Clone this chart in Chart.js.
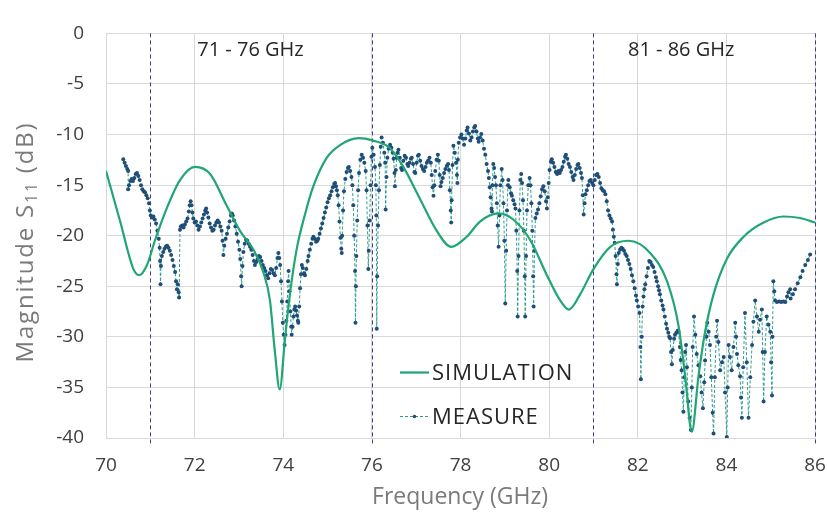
<!DOCTYPE html>
<html>
<head>
<meta charset="utf-8">
<title>S11 magnitude</title>
<script src="https://cdn.jsdelivr.net/npm/chart.js@4.4.0/dist/chart.umd.min.js"></script>
<style>
  html, body { margin: 0; padding: 0; background: #fff; }
  #wrap { width: 827px; height: 521px; position: relative; }
</style>
</head>
<body>
<div id="wrap"><canvas id="s11Chart" width="827" height="521"></canvas></div>
<script>
// axis setup
const xTicks = [70, 72, 74, 76, 78, 80, 82, 84, 86];
const yTicks = [0, -5, -10, -15, -20, -25, -30, -35, -40];
const bandEdges = [71, 76, 81, 86];
const bandLabels = ['71 - 76 GHz', '81 - 86 GHz'];
const seriesNames = ['SIMULATION', 'MEASURE'];

// simulated S11 (GHz, dB)
const simFreq = [70.0, 70.32, 70.62, 70.75, 70.92, 71.11, 71.37, 71.67, 72.01, 72.35, 72.72, 73.02, 73.33, 73.55, 73.70, 73.81, 73.92, 74.04, 74.15, 74.30, 74.49, 74.68, 74.98, 75.28, 75.70, 76.03, 76.41, 76.71, 77.09, 77.46, 77.79, 78.14, 78.44, 78.86, 79.19, 79.57, 79.95, 80.25, 80.45, 80.70, 81.0, 81.38, 81.79, 82.28, 82.66, 82.92, 83.07, 83.22, 83.37, 83.52, 83.71, 84.01, 84.39, 84.84, 85.29, 85.66, 86.0];
const simDb = [-13.6, -18.6, -23.3, -23.9, -22.95, -20.4, -17.3, -14.5, -13.2, -13.9, -17.0, -19.5, -21.4, -23.6, -26.4, -31.4, -35.2, -30.15, -25.8, -21.4, -17.9, -15.1, -12.3, -11.05, -10.36, -10.6, -11.35, -13.2, -16.4, -19.5, -21.1, -20.1, -18.6, -17.8, -18.4, -20.4, -23.9, -26.4, -27.3, -25.8, -23.3, -21.1, -20.5, -21.7, -24.5, -28.9, -33.9, -39.4, -33.9, -29.5, -25.8, -22.3, -20.1, -18.7, -18.1, -18.25, -18.7];

const measured = [
  [70.39, -12.45], [70.42, -12.8], [70.45, -13.1], [70.48, -13.4], [70.50, -13.6], [70.50, -15.4], [70.52, -15.0], [70.55, -14.6], [70.58, -14.4], [70.61, -14.6],
  [70.64, -14.3], [70.67, -13.9], [70.70, -13.8], [70.73, -14.1], [70.76, -14.5], [70.79, -15.0], [70.82, -15.4], [70.85, -15.6], [70.88, -15.7], [70.91, -16.0],
  [70.94, -16.3], [70.97, -16.8], [70.99, -17.5], [71.01, -18.0], [71.04, -18.2], [71.07, -18.1], [71.10, -18.4], [71.13, -18.8], [71.16, -19.5], [71.19, -20.3],
  [71.21, -21.2], [71.22, -22.5], [71.23, -24.8], [71.24, -23.0], [71.26, -22.0], [71.29, -21.6], [71.32, -21.3], [71.35, -21.1], [71.38, -21.0], [71.41, -21.2],
  [71.44, -21.5], [71.47, -21.9], [71.50, -22.4], [71.53, -23.0], [71.56, -23.6], [71.58, -24.5], [71.60, -25.3], [71.62, -24.8], [71.64, -25.6], [71.65, -26.1],
  [71.67, -19.4], [71.69, -19.1], [71.72, -19.0], [71.75, -19.2], [71.78, -18.9], [71.81, -18.6], [71.84, -18.3], [71.87, -17.6], [71.89, -17.0], [71.91, -16.6],
  [71.93, -17.0], [71.95, -17.7], [71.97, -18.3], [72.00, -18.7], [72.03, -18.6], [72.06, -19.0], [72.09, -19.4], [72.12, -19.1], [72.15, -18.7], [72.18, -18.3],
  [72.21, -17.9], [72.24, -17.5], [72.26, -17.3], [72.28, -17.7], [72.31, -18.2], [72.34, -18.8], [72.37, -19.2], [72.40, -19.5], [72.43, -19.4], [72.46, -19.0],
  [72.49, -18.7], [72.52, -18.5], [72.55, -18.7], [72.58, -19.1], [72.61, -19.5], [72.63, -20.5], [72.65, -21.9], [72.67, -21.0], [72.70, -20.3], [72.73, -19.8],
  [72.76, -19.2], [72.79, -18.6], [72.82, -18.0], [72.84, -17.8], [72.86, -18.0], [72.89, -18.5], [72.92, -19.1], [72.95, -19.8], [72.98, -20.6], [73.01, -21.4],
  [73.03, -22.3], [73.05, -24.0], [73.06, -25.0], [73.08, -23.0], [73.10, -21.6], [73.13, -20.8], [73.16, -20.4], [73.19, -20.5], [73.22, -20.8], [73.25, -21.1],
  [73.28, -21.4], [73.31, -21.9], [73.34, -22.5], [73.36, -22.9], [73.39, -22.6], [73.42, -22.3], [73.45, -22.0], [73.48, -22.1], [73.51, -22.5], [73.54, -22.9],
  [73.57, -23.2], [73.60, -23.5], [73.63, -23.9], [73.66, -24.2], [73.69, -23.7], [73.72, -23.3], [73.75, -23.4], [73.78, -23.7], [73.81, -23.9], [73.84, -23.2],
  [73.87, -22.2], [73.89, -21.7], [73.91, -22.2], [73.93, -22.9], [73.95, -24.5], [73.97, -26.5], [73.99, -28.6], [74.01, -29.8], [74.03, -30.8], [74.05, -29.8],
  [74.07, -28.4], [74.09, -26.5], [74.11, -24.5], [74.12, -23.5], [74.14, -25.5], [74.16, -27.5], [74.18, -29.0], [74.19, -29.8], [74.21, -29.0], [74.23, -28.0],
  [74.25, -27.3], [74.27, -27.0], [74.29, -27.4], [74.31, -27.9], [74.33, -28.4], [74.34, -28.6], [74.36, -27.0], [74.38, -25.2], [74.40, -23.8], [74.42, -22.9],
  [74.44, -23.2], [74.47, -23.7], [74.49, -23.9], [74.52, -23.3], [74.55, -22.5], [74.57, -22.0], [74.60, -21.4], [74.63, -20.8], [74.66, -20.3], [74.68, -20.1],
  [74.71, -20.3], [74.74, -20.6], [74.77, -20.5], [74.79, -20.3], [74.82, -19.8], [74.85, -19.3], [74.88, -18.8], [74.91, -18.25], [74.94, -17.7], [74.97, -17.2],
  [75.00, -16.7], [75.03, -16.3], [75.06, -16.0], [75.09, -15.6], [75.12, -15.2], [75.15, -14.9], [75.17, -14.8], [75.19, -15.1], [75.21, -15.5], [75.23, -16.0],
  [75.25, -17.0], [75.27, -18.6], [75.29, -20.2], [75.31, -21.3], [75.32, -21.7], [75.33, -20.0], [75.35, -17.5], [75.37, -15.6], [75.40, -14.4], [75.43, -13.7],
  [75.46, -13.3], [75.48, -13.2], [75.51, -13.6], [75.54, -14.2], [75.56, -15.0], [75.58, -17.0], [75.60, -20.0], [75.62, -23.5], [75.63, -28.6], [75.64, -25.0],
  [75.65, -22.0], [75.67, -18.5], [75.69, -15.5], [75.71, -13.8], [75.74, -12.5], [75.77, -12.0], [75.80, -12.3], [75.83, -12.8], [75.86, -13.6], [75.88, -15.5],
  [75.90, -19.0], [75.92, -23.3], [75.93, -21.5], [75.95, -18.5], [75.97, -15.0], [75.99, -12.2], [76.01, -11.3], [76.04, -12.0], [76.07, -13.2], [76.09, -15.0],
  [76.10, -18.0], [76.11, -29.2], [76.12, -24.0], [76.14, -19.0], [76.16, -15.5], [76.18, -13.0], [76.20, -11.2], [76.22, -10.3], [76.25, -10.8], [76.28, -11.8],
  [76.30, -12.8], [76.31, -17.4], [76.33, -14.2], [76.35, -12.3], [76.38, -11.4], [76.41, -11.0], [76.44, -11.3], [76.47, -11.8], [76.49, -12.4], [76.51, -13.8],
  [76.52, -15.1], [76.54, -13.5], [76.56, -12.3], [76.58, -11.8], [76.60, -11.5], [76.63, -12.3], [76.66, -13.3], [76.68, -13.5], [76.71, -12.6], [76.74, -12.1],
  [76.77, -12.3], [76.80, -12.9], [76.82, -13.1], [76.85, -12.8], [76.88, -12.4], [76.90, -12.3], [76.93, -12.9], [76.96, -13.7], [76.98, -13.8], [77.01, -12.8],
  [77.04, -12.1], [77.06, -12.0], [77.09, -12.6], [77.12, -13.1], [77.15, -13.4], [77.18, -13.6], [77.21, -13.2], [77.24, -12.8], [77.27, -12.6], [77.30, -12.3],
  [77.33, -12.8], [77.35, -14.0], [77.37, -15.2], [77.39, -16.05], [77.41, -15.0], [77.43, -13.6], [77.46, -12.5], [77.49, -12.0], [77.51, -12.6], [77.53, -14.0],
  [77.55, -15.1], [77.57, -14.7], [77.60, -14.3], [77.63, -13.8], [77.66, -13.4], [77.69, -13.1], [77.72, -12.9], [77.74, -13.5], [77.76, -15.5], [77.78, -17.5],
  [77.79, -18.7], [77.80, -16.5], [77.82, -13.0], [77.84, -11.1], [77.87, -11.8], [77.90, -12.8], [77.92, -14.0], [77.93, -14.8], [77.94, -12.5], [77.96, -10.8],
  [77.99, -10.3], [78.02, -10.0], [78.05, -10.4], [78.08, -11.0], [78.11, -10.4], [78.14, -9.6], [78.16, -9.3], [78.19, -9.9], [78.22, -10.6], [78.25, -10.3],
  [78.28, -9.7], [78.31, -9.3], [78.33, -9.15], [78.36, -9.7], [78.39, -10.4], [78.41, -10.7], [78.44, -10.3], [78.47, -9.95], [78.50, -10.6], [78.53, -11.4],
  [78.56, -12.0], [78.59, -12.9], [78.62, -13.6], [78.64, -14.3], [78.66, -15.2], [78.68, -16.2], [78.70, -17.3], [78.71, -17.6], [78.72, -15.0], [78.74, -12.9],
  [78.76, -13.3], [78.78, -14.2], [78.80, -15.0], [78.82, -16.8], [78.84, -19.0], [78.86, -21.1], [78.88, -18.0], [78.90, -15.0], [78.93, -13.4], [78.95, -14.5],
  [78.97, -16.8], [78.99, -20.5], [79.01, -26.7], [79.03, -21.5], [79.05, -17.5], [79.07, -15.0], [79.08, -14.5], [79.11, -15.2], [79.14, -15.8], [79.16, -16.05],
  [79.19, -16.5], [79.22, -16.9], [79.24, -17.3], [79.26, -19.5], [79.28, -23.5], [79.29, -28.0], [79.31, -22.0], [79.33, -17.5], [79.35, -14.5], [79.37, -13.9],
  [79.39, -14.8], [79.41, -16.5], [79.43, -19.5], [79.45, -24.0], [79.46, -28.0], [79.48, -22.0], [79.50, -17.5], [79.53, -15.0], [79.56, -14.3], [79.58, -15.0],
  [79.60, -16.8], [79.62, -19.5], [79.64, -24.0], [79.65, -27.0], [79.67, -21.5], [79.69, -18.25], [79.72, -17.8], [79.75, -17.4], [79.78, -16.8], [79.81, -16.1],
  [79.84, -15.4], [79.87, -15.1], [79.90, -15.6], [79.93, -16.6], [79.95, -17.3], [79.97, -16.2], [79.99, -14.8], [80.01, -13.5], [80.04, -12.7], [80.06, -12.45],
  [80.09, -12.8], [80.12, -13.2], [80.15, -13.7], [80.18, -13.9], [80.21, -13.6], [80.24, -13.8], [80.27, -13.5], [80.30, -13.2], [80.33, -12.7], [80.36, -12.2],
  [80.38, -12.0], [80.41, -12.4], [80.44, -12.9], [80.47, -13.2], [80.50, -13.7], [80.53, -14.2], [80.55, -14.5], [80.58, -14.0], [80.61, -13.4], [80.64, -13.0],
  [80.66, -12.9], [80.69, -13.3], [80.72, -13.8], [80.74, -14.3], [80.76, -16.0], [80.78, -17.9], [80.80, -16.8], [80.82, -15.9], [80.85, -15.5], [80.88, -15.0],
  [80.91, -14.6], [80.94, -14.5], [80.97, -14.8], [81.00, -15.0], [81.03, -14.5], [81.06, -14.0], [81.09, -13.9], [81.12, -14.2], [81.15, -14.8], [81.18, -15.3],
  [81.21, -15.5], [81.24, -15.6], [81.27, -15.9], [81.30, -16.6], [81.33, -17.5], [81.36, -18.0], [81.39, -18.3], [81.42, -18.6], [81.44, -19.4], [81.46, -20.1],
  [81.48, -20.7], [81.50, -22.0], [81.52, -23.8], [81.53, -24.8], [81.55, -22.8], [81.57, -21.7], [81.60, -21.4], [81.63, -21.2], [81.66, -21.3], [81.69, -21.5],
  [81.72, -21.8], [81.75, -22.0], [81.78, -22.4], [81.81, -22.8], [81.84, -23.3], [81.87, -23.9], [81.90, -24.5], [81.93, -25.2], [81.96, -25.9], [81.98, -26.4],
  [82.01, -27.0], [82.04, -27.65], [82.06, -31.0], [82.07, -34.2], [82.09, -30.0], [82.11, -27.0], [82.13, -26.0], [82.15, -25.3], [82.17, -24.8], [82.20, -24.0],
  [82.23, -23.2], [82.26, -22.5], [82.29, -22.6], [82.32, -22.9], [82.35, -23.1], [82.38, -23.6], [82.41, -24.1], [82.43, -24.5], [82.46, -25.0], [82.48, -25.4],
  [82.50, -25.8], [82.53, -26.4], [82.56, -26.9], [82.58, -27.3], [82.61, -28.0], [82.64, -28.7], [82.66, -29.2], [82.69, -29.6], [82.71, -30.0], [82.73, -30.15],
  [82.75, -31.5], [82.77, -32.7], [82.79, -31.3], [82.82, -30.2], [82.84, -29.8], [82.87, -29.6], [82.90, -29.4], [82.92, -29.5], [82.95, -31.0], [82.97, -32.3],
  [82.99, -33.3], [83.01, -35.5], [83.03, -37.4], [83.05, -34.0], [83.07, -31.5], [83.09, -30.8], [83.11, -33.0], [83.14, -36.4], [83.17, -38.0], [83.20, -39.2],
  [83.22, -35.0], [83.24, -31.0], [83.27, -28.0], [83.30, -29.8], [83.33, -31.7], [83.37, -32.8], [83.41, -33.9], [83.44, -35.5], [83.47, -37.05], [83.50, -34.5],
  [83.52, -32.35], [83.55, -30.0], [83.57, -28.6], [83.60, -29.5], [83.63, -30.8], [83.66, -34.0], [83.69, -37.5], [83.71, -39.55], [83.74, -34.0], [83.77, -30.0],
  [83.79, -28.4], [83.82, -30.5], [83.86, -33.3], [83.90, -32.5], [83.94, -32.0], [83.97, -35.5], [84.01, -39.9], [84.03, -35.0], [84.05, -30.8], [84.08, -32.0],
  [84.12, -33.3], [84.16, -31.0], [84.20, -28.6], [84.22, -30.0], [84.24, -31.7], [84.27, -32.8], [84.31, -33.9], [84.33, -36.0], [84.35, -38.0], [84.38, -33.0],
  [84.42, -27.65], [84.46, -32.5], [84.50, -38.0], [84.54, -34.0], [84.58, -30.8], [84.61, -28.5], [84.65, -26.4], [84.69, -28.0], [84.73, -29.5], [84.76, -28.3],
  [84.80, -27.3], [84.82, -31.5], [84.84, -36.4], [84.87, -31.5], [84.91, -28.0], [84.95, -28.8], [84.99, -29.5], [85.01, -32.5], [85.03, -35.8], [85.04, -30.0],
  [85.06, -24.5], [85.08, -25.5], [85.10, -26.4], [85.14, -26.55], [85.19, -26.5], [85.24, -26.55], [85.29, -26.5], [85.33, -26.55], [85.37, -26.0], [85.40, -25.6],
  [85.44, -25.3], [85.45, -26.2], [85.50, -25.8], [85.55, -25.3], [85.61, -24.7], [85.67, -24.1], [85.72, -23.5], [85.78, -22.9], [85.84, -22.4], [85.89, -21.85]
];

const simColor = '#1fa673';
const measLine = '#2f9c8c';
const measDot = '#1f4e79';
const fontFam = '"Open Sans", "Noto Sans", sans-serif';

// dashed band edges, band labels, legend and y title with subscript
const overlayPlugin = {
  id: 'overlay',
  beforeDatasetsDraw(chart) {
    const { ctx, chartArea, scales } = chart;
    ctx.save();
    ctx.strokeStyle = '#3b3f8c';
    ctx.lineWidth = 1;
    ctx.setLineDash([4, 3]);
    bandEdges.forEach(f => {
      const px = Math.round(scales.x.getPixelForValue(f)) + 0.5;
      ctx.beginPath();
      ctx.moveTo(px, chartArea.top);
      ctx.lineTo(px, chartArea.bottom + 6);
      ctx.stroke();
    });
    ctx.restore();
  },
  afterDatasetsDraw(chart) {
    const { ctx, scales } = chart;
    ctx.save();
    // band labels
    ctx.fillStyle = '#262626';
    ctx.font = '20px ' + fontFam;
    ctx.textAlign = 'center';
    ctx.textBaseline = 'middle';
    ctx.fillText(bandLabels[0], scales.x.getPixelForValue(73.26), 50);
    ctx.fillText(bandLabels[1], scales.x.getPixelForValue(82.98), 50);

    // legend
    const lx = 400, ly1 = 372.5, ly2 = 416.5;
    ctx.strokeStyle = simColor;
    ctx.lineWidth = 2.2;
    ctx.beginPath();
    ctx.moveTo(lx, ly1);
    ctx.lineTo(lx + 29, ly1);
    ctx.stroke();
    ctx.strokeStyle = measLine;
    ctx.lineWidth = 1;
    ctx.setLineDash([3, 2]);
    ctx.beginPath();
    ctx.moveTo(lx, ly2);
    ctx.lineTo(lx + 29, ly2);
    ctx.stroke();
    ctx.setLineDash([]);
    ctx.fillStyle = measDot;
    ctx.beginPath();
    ctx.arc(lx + 14.5, ly2, 1.8, 0, Math.PI * 2);
    ctx.fill();
    ctx.fillStyle = '#262626';
    ctx.font = '22px ' + fontFam;
    ctx.letterSpacing = '1px';
    ctx.textAlign = 'left';
    ctx.fillText(seriesNames[0], lx + 32, ly1 + 1);
    ctx.fillText(seriesNames[1], lx + 32, ly2 + 1);
    ctx.letterSpacing = '0px';

    // x title
    ctx.fillStyle = '#7a7a7a';
    ctx.font = '23px ' + fontFam;
    ctx.textAlign = 'center';
    ctx.fillText('Frequency (GHz)', 460, 497);

    // y title, rotated, with subscript 11
    ctx.translate(26, 242);
    ctx.rotate(-Math.PI / 2);
    ctx.letterSpacing = '1.8px';
    const big = '24px ' + fontFam, small = '16px ' + fontFam;
    const p1 = 'Magnitude S', p2 = '11', p3 = ' (dB)';
    ctx.font = big;
    const w1 = ctx.measureText(p1).width, w3 = ctx.measureText(p3).width;
    ctx.font = small;
    const w2 = ctx.measureText(p2).width;
    const sx = -(w1 + w2 + w3) / 2;
    ctx.textAlign = 'left';
    ctx.font = big;
    ctx.fillText(p1, sx, 0);
    ctx.font = small;
    ctx.fillText(p2, sx + w1, 6);
    ctx.font = big;
    ctx.fillText(p3, sx + w1 + w2, 0);
    ctx.restore();
  }
};

new Chart(document.getElementById('s11Chart').getContext('2d'), {
  type: 'scatter',
  data: {
    datasets: [
      {
        label: seriesNames[0],
        data: simFreq.map((f, i) => ({ x: f, y: simDb[i] })),
        showLine: true,
        borderColor: simColor,
        borderWidth: 2.2,
        pointRadius: 0,
        cubicInterpolationMode: 'monotone',
        order: 0
      },
      {
        label: seriesNames[1],
        data: measured.map(p => ({ x: p[0], y: p[1] })),
        showLine: true,
        borderColor: measLine,
        borderWidth: 1,
        borderDash: [3, 2],
        pointRadius: 2,
        pointBorderWidth: 0,
        pointBackgroundColor: measDot,
        order: 1
      }
    ]
  },
  options: {
    responsive: false,
    animation: false,
    layout: { padding: { left: 0, right: 0, top: 12, bottom: 0 } },
    plugins: {
      legend: { display: false },
      tooltip: { enabled: false }
    },
    scales: {
      x: {
        type: 'linear',
        min: xTicks[0],
        max: xTicks[xTicks.length - 1],
        afterBuildTicks: s => { s.ticks = xTicks.map(v => ({ value: v })); },
        afterFit: s => { s.height = 83; s.paddingLeft = 0; s.paddingRight = 12; },
        grid: { color: '#d9d9d9', drawTicks: false },
        border: { color: '#d9d9d9' },
        ticks: { color: '#404040', font: { family: fontFam, size: 19 }, padding: 16, maxRotation: 0 }
      },
      y: {
        type: 'linear',
        min: yTicks[yTicks.length - 1],
        max: yTicks[0],
        afterBuildTicks: s => { s.ticks = yTicks.map(v => ({ value: v })); },
        afterFit: s => { s.width = 106; },
        grid: { color: '#d9d9d9', drawTicks: false },
        border: { color: '#d9d9d9' },
        ticks: { color: '#404040', font: { family: fontFam, size: 19 }, padding: 22 }
      }
    }
  },
  plugins: [overlayPlugin]
});
</script>
</body>
</html>
